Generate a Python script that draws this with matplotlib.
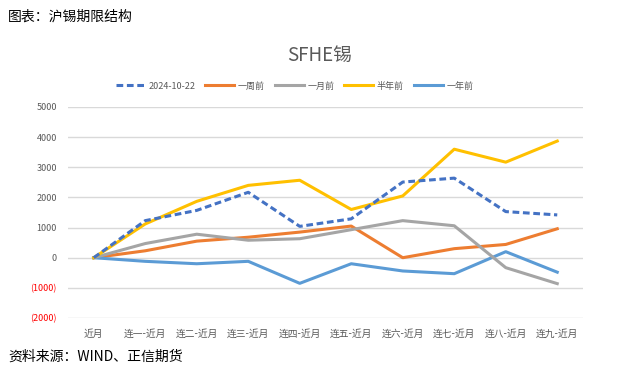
import matplotlib
matplotlib.use("Agg")
import matplotlib.pyplot as plt
from matplotlib.ticker import FuncFormatter

plt.rcParams['font.family'] = ['Noto Sans CJK SC', 'DejaVu Sans']

# 合约月份
categories = ['近月', '连一-近月', '连二-近月', '连三-近月', '连四-近月',
              '连五-近月', '连六-近月', '连七-近月', '连八-近月', '连九-近月']

# 各时点的价差 (元/吨)
s_latest = [0, 1230, 1570, 2170, 1040, 1290, 2510, 2640, 1530, 1420]
s_week = [0, 230, 550, 680, 850, 1050, 0, 300, 440, 960]
s_month = [0, 470, 780, 580, 630, 930, 1230, 1060, -330, -860]
s_halfyear = [0, 1120, 1870, 2400, 2570, 1600, 2050, 3600, 3170, 3870]
s_year = [0, -120, -200, -120, -850, -200, -440, -530, 200, -480]

y_ticks = [5000, 4000, 3000, 2000, 1000, 0, -1000, -2000]

fig = plt.figure(figsize=(6.28, 3.79), dpi=100)
# 绘图区 (按像素定位)
ax = fig.add_axes([68 / 628, 1 - 318 / 379, (583 - 68) / 628, (318 - 107) / 379])

x = list(range(len(categories)))
ax.plot(x, s_latest, color='#4472C4', lw=2.2, ls=(0, (2.2, 1.2)), label='2024-10-22', zorder=6)
ax.plot(x, s_week, color='#ED7D31', lw=2.2, label='一周前', zorder=3)
ax.plot(x, s_month, color='#A5A5A5', lw=2.2, label='一月前', zorder=4)
ax.plot(x, s_halfyear, color='#FFC000', lw=2.2, label='半年前', zorder=5)
ax.plot(x, s_year, color='#5B9BD5', lw=2.2, label='一年前', zorder=3)

ax.set_xlim(-0.5, len(categories) - 0.5)
ax.set_ylim(-2000, 5000)
ax.set_yticks(y_ticks)
ax.yaxis.set_major_formatter(FuncFormatter(lambda v, p: f'({abs(int(v))})' if v < 0 else f'{int(v)}'))
ax.grid(axis='y', color='#D9D9D9', lw=1)
ax.set_axisbelow(True)
for sp in ax.spines.values():
    sp.set_visible(False)
ax.tick_params(axis='both', length=0, labelsize=6.5, colors='#595959')
ax.tick_params(axis='x', labelsize=7, pad=8)
ax.tick_params(axis='y', pad=8)
ax.set_xticks(x)
ax.set_xticklabels(categories)

# 负值标签标红
fig.canvas.draw()
for lbl, v in zip(ax.get_yticklabels(), ax.get_yticks()):
    if v < 0:
        lbl.set_color('#FF0000')

fig.text(320 / 628, 1 - 55 / 379, 'SFHE锡', ha='center', va='center', fontsize=13.5, color='#595959')
ax.legend(loc='center', bbox_to_anchor=(0.44, (318 - 86) / (318 - 107)),
          ncol=5, frameon=False, fontsize=6.5, handlelength=3.2, columnspacing=1.1,
          handletextpad=0.4, labelcolor='#595959')

fig.text(8 / 628, 1 - 17 / 379, '图表：沪锡期限结构', ha='left', va='center', fontsize=10, color='black')
fig.text(8 / 628, 1 - 357 / 379, '资料来源：WIND、正信期货', ha='left', va='center', fontsize=10, color='black')

fig.savefig('out.png', dpi=100, facecolor='white')
